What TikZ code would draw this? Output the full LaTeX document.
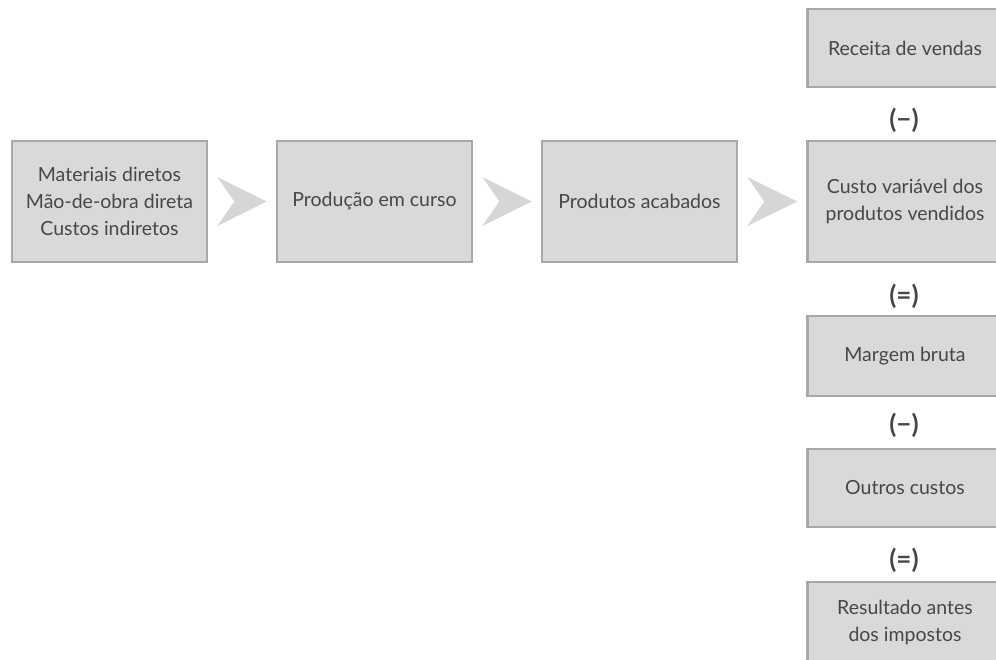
\documentclass[tikz,border=0pt]{standalone}
\usepackage{fontspec}
\setmainfont{Lato}
\usetikzlibrary{calc}
\definecolor{boxfill}{HTML}{D9D9D9}
\definecolor{boxline}{HTML}{A8A8A8}
\definecolor{chevfill}{HTML}{D6D6D6}
\definecolor{txt}{HTML}{474747}
\begin{document}
\begin{tikzpicture}[x=1pt,y=-1pt,
  box/.style={draw=boxline,line width=2.6pt,fill=boxfill,text=txt,align=center,
    minimum width=195pt,inner sep=0pt,font=\fontsize{19.5}{27}\selectfont},
  sign/.style={text=txt,font=\fontsize{26}{28}\selectfont\bfseries},
  chev/.style={fill=chevfill,draw=none}]
\useasboundingbox (0,0) rectangle (996,659);
\begin{scope}
\clip (0,0) rectangle (996,659);
\node[box,minimum height=121pt] (b1) at (109.5,201.5) {Materiais diretos\\Mão-de-obra direta\\Custos indiretos};
\node[box,minimum height=121pt] (b2) at (374.5,201.5) {Produção em curso};
\node[box,minimum height=121pt] (b3) at (639.5,201.5) {Produtos acabados};
\node[box,minimum height=121pt] (c2) at (905,201.5) {Custo variável dos\\produtos vendidos};
\node[box,minimum height=78pt] (c1) at (905,48) {Receita de vendas};
\node[box,minimum height=80pt] (c3) at (905,356) {Margem bruta};
\node[box,minimum height=78pt] (c4) at (905,488) {Outros custos};
\node[box,minimum height=80pt] (c5) at (905,622) {Resultado antes\\dos impostos};
\end{scope}
\node[sign] (s1) at (904,120) {(−)};
\node[sign] (s2) at (904,296) {(=)};
\node[sign] (s3) at (904,425) {(−)};
\node[sign] (s4) at (904,560) {(=)};
\foreach \a/\b in {b1/b2,b2/b3,b3/c2}{
  \fill[chev] ($(\a.east)+(9,-24.5)$) -- ($(\b.west)+(-9,0)$) -- ($(\a.east)+(9,24.5)$) -- ($(\a.east)+(26,0)$) -- cycle;
}
\end{tikzpicture}
\end{document}
